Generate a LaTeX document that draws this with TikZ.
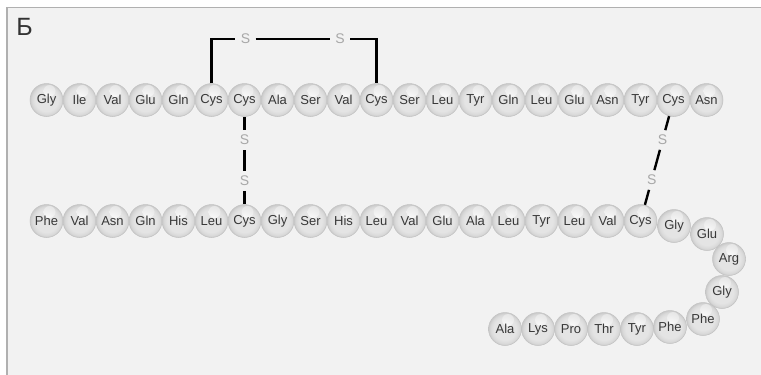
\documentclass[tikz,border=0pt]{standalone}
\usepackage{fontspec}
\setmainfont{Liberation Sans}
\definecolor{panel}{HTML}{F2F2F2}
\definecolor{framecol}{HTML}{B0B0B0}
\definecolor{beadbody}{HTML}{E4E4E4}
\definecolor{beadline}{HTML}{C2C2C2}
\definecolor{beadtext}{HTML}{383838}
\definecolor{sulfur}{HTML}{A8A8A8}
\pgfdeclareradialshading{beadshade}{\pgfpoint{0bp}{0bp}}{%
  color(0bp)=(beadbody); color(17bp)=(beadbody); color(22bp)=(black!15);
  color(25bp)=(black!21); color(50bp)=(black!21)}
\tikzset{
  bead/.style={circle, minimum size=33pt, inner sep=0pt, draw=beadline,
    line width=0.5pt, shading=beadshade, text=beadtext,
    font=\fontsize{13}{13}\selectfont,
    path picture={\shade[inner color=white, outer color=beadbody]
      ([shift={(3pt,9pt)}]path picture bounding box.center) circle (6pt);}},
  sulf/.style={circle, minimum size=20pt, inner sep=0pt, text=sulfur,
    font=\fontsize{14}{14}\selectfont},
  bond/.style={black, line width=2.4pt}
}
\begin{document}
\begin{tikzpicture}[x=1pt, y=-1pt]
\useasboundingbox (0,0) rectangle (761,375);
% panel and frame
\fill[white] (0,0) rectangle (761,375);
\fill[panel] (7,7.5) rectangle (761,375);
\draw[framecol, line width=1.6pt] (7,375) -- (7,7.5) -- (761,7.5);
\node[text=black!80, font=\fontsize{25}{25}\selectfont] (label) at (24.5,27) {Б};
% chain A
\foreach \n [count=\i from 0] in {Gly,Ile,Val,Glu,Gln,Cys,Cys,Ala,Ser,Val,Cys,Ser,Leu,Tyr,Gln,Leu,Glu,Asn,Tyr,Cys,Asn}
  \node[bead] (t\i) at ({46.5+33*\i},100) {\n};
% chain B
\foreach \n [count=\i from 0] in {Phe,Val,Asn,Gln,His,Leu,Cys,Gly,Ser,His,Leu,Val,Glu,Ala,Leu,Tyr,Leu,Val,Cys}
  \node[bead] (b\i) at ({46.5+33*\i},221) {\n};
% chain B tail
\node[bead] (b19) at (674,226) {Gly};
\node[bead] (b20) at (707,234) {Glu};
\node[bead] (b21) at (729,259) {Arg};
\node[bead] (b22) at (722,292) {Gly};
\node[bead] (b23) at (703,319) {Phe};
\node[bead] (b24) at (670,327) {Phe};
\node[bead] (b25) at (637,329) {Tyr};
\node[bead] (b26) at (604,329) {Thr};
\node[bead] (b27) at (571,329) {Pro};
\node[bead] (b28) at (538,329) {Lys};
\node[bead] (b29) at (505,329) {Ala};
% disulfide bridges
\node[sulf] (s1) at (245.5,39) {S};
\node[sulf] (s2) at (340,39) {S};
\draw[bond] (t5.north) |- (s1);
\draw[bond] (s1) -- (s2);
\draw[bond] (s2) -| (t10.north);
\node[sulf] (v1) at (244.5,140) {S};
\node[sulf] (v2) at (244.5,181) {S};
\draw[bond] (t6) -- (v1);
\draw[bond] (v1) -- (v2);
\draw[bond] (v2) -- (b6);
\node[sulf] (d1) at (662.6,140) {S};
\node[sulf] (d2) at (651.7,180) {S};
\draw[bond] (t19) -- (d1);
\draw[bond] (d1) -- (d2);
\draw[bond] (d2) -- (b18);
\end{tikzpicture}
\end{document}
